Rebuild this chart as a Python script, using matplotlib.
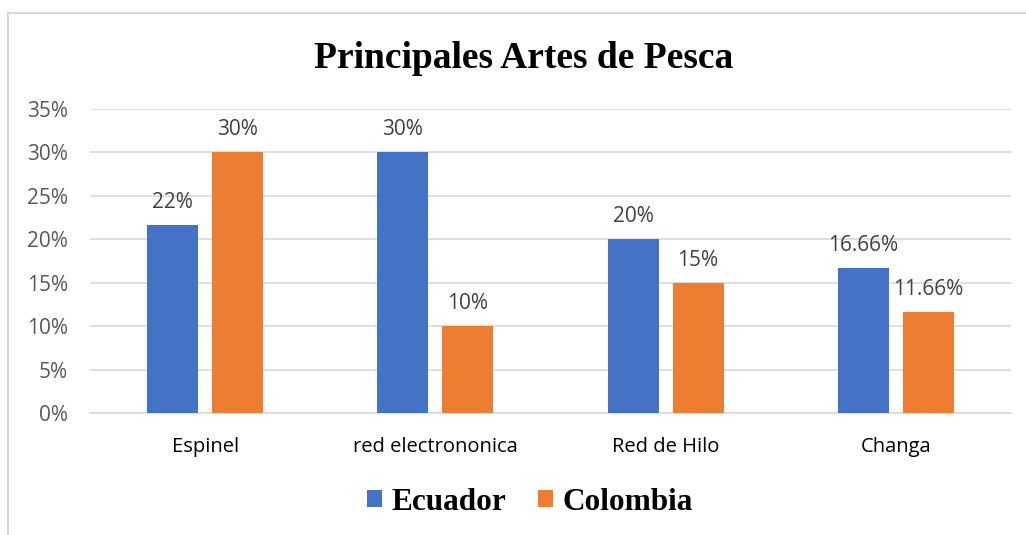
import matplotlib
matplotlib.use("Agg")
import matplotlib.pyplot as plt
import numpy as np
from matplotlib.lines import Line2D

categories = ["Espinel", "red electrononica", "Red de Hilo", "Changa"]
ecuador = [0.217, 0.30, 0.20, 0.1666]
colombia = [0.30, 0.10, 0.15, 0.1166]
ecuador_labels = ["22%", "30%", "20%", "16.66%"]
colombia_labels = ["30%", "10%", "15%", "11.66%"]
yticks = [0, 0.05, 0.10, 0.15, 0.20, 0.25, 0.30, 0.35]
ytick_labels = ["0%", "5%", "10%", "15%", "20%", "25%", "30%", "35%"]

W, H = 1026, 535
fig = plt.figure(figsize=(W / 100, H / 100), dpi=100)
ax = fig.add_axes([90 / W, 1 - 413 / H, (1011 - 90) / W, (413 - 109) / H])

blue = "#4472C4"
orange = "#ED7D31"
x = np.arange(len(categories))
bw = 0.2215
off = 0.141
b1 = ax.bar(x - off, ecuador, bw, color=blue, zorder=3, label="Ecuador")
b2 = ax.bar(x + off, colombia, bw, color=orange, zorder=3, label="Colombia")

sans = ["Open Sans", "DejaVu Sans"]
for rects, labels in ((b1, ecuador_labels), (b2, colombia_labels)):
    for r, t in zip(rects, labels):
        ax.annotate(t, (r.get_x() + r.get_width() / 2, r.get_height()),
                    xytext=(0, 12.2), textcoords="offset points",
                    ha="center", va="baseline",
                    family=sans, size=15, color="#404040")

ax.set_xlim(-0.5, len(categories) - 0.5)
ax.set_ylim(0, 0.35)
ax.set_yticks(yticks)
ax.set_yticklabels(ytick_labels)
ax.set_xticks(x)
ax.set_xticklabels(categories)
for lbl in ax.get_yticklabels():
    lbl.set_fontfamily(sans)
    lbl.set_fontsize(15)
    lbl.set_color("#595959")
for lbl in ax.get_xticklabels():
    lbl.set_fontfamily(sans)
    lbl.set_fontsize(14.5)
    lbl.set_color("#000000")
ax.tick_params(axis="both", length=0)
ax.tick_params(axis="y", pad=16)
ax.tick_params(axis="x", pad=17)
ax.yaxis.grid(True, color="#D9D9D9", linewidth=1.2, zorder=0)
ax.set_axisbelow(True)
for s in ["top", "right", "left"]:
    ax.spines[s].set_visible(False)
ax.spines["bottom"].set_color("#D9D9D9")
ax.spines["bottom"].set_linewidth(1.2)

fig.text(524 / W, 1 - 68 / H, "Principales Artes de Pesca", ha="center", va="baseline",
         fontfamily="Liberation Serif", fontweight="bold", fontsize=27, color="#000000")

leg = fig.legend(handles=[b1, b2], labels=["Ecuador", "Colombia"], loc="center",
                 bbox_to_anchor=(530 / W, 1 - 502 / H), ncol=2, frameon=False,
                 prop=dict(family="Liberation Serif", weight="bold", size=22.5),
                 handlelength=0.5, handleheight=0.5, handletextpad=0.3, columnspacing=1.0)

# outer chart frame (top and left visible)
fig.add_artist(Line2D([8 / W, 1.0], [1 - 13 / H, 1 - 13 / H], color="#D9D9D9", linewidth=1.5))
fig.add_artist(Line2D([8 / W, 8 / W], [0, 1 - 13 / H], color="#D9D9D9", linewidth=1.5))

fig.savefig("out.png", dpi=100, facecolor="white")
